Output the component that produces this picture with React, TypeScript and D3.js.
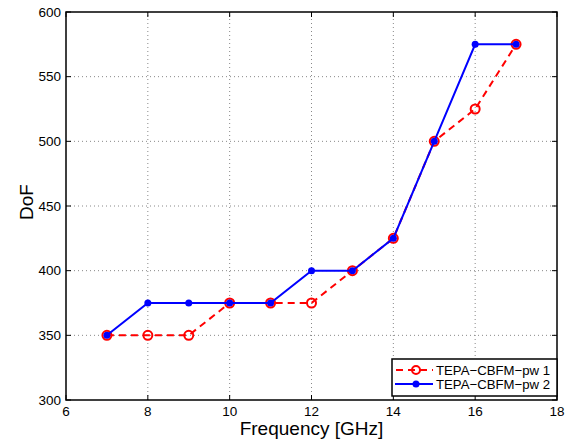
import React from 'react';
import { scaleLinear, line } from 'd3';

const FREQ = [7, 8, 9, 10, 11, 12, 13, 14, 15, 16, 17];
const DOF_PW1 = [350, 350, 350, 375, 375, 375, 400, 425, 500, 525, 575];
const DOF_PW2 = [350, 375, 375, 375, 375, 400, 400, 425, 500, 575, 575];
const X_TICKS = [6, 8, 10, 12, 14, 16, 18];
const Y_TICKS = [300, 350, 400, 450, 500, 550, 600];
const LABELS = ['TEPA\u2212CBFM\u2212pw 1', 'TEPA\u2212CBFM\u2212pw 2'];

const W = 569;
const H = 440;
const M = { left: 66, right: 12, top: 12, bottom: 40 };
const FONT = '"Liberation Sans", Arial, sans-serif';

export default function App() {
  const x = scaleLinear().domain([6, 18]).range([M.left, W - M.right]);
  const y = scaleLinear().domain([300, 600]).range([H - M.bottom, M.top]);
  const x0 = x.range()[0], x1 = x.range()[1];
  const y0 = y.range()[0], y1 = y.range()[1];

  const pts1 = FREQ.map((f, i) => [f, DOF_PW1[i]] as [number, number]);
  const pts2 = FREQ.map((f, i) => [f, DOF_PW2[i]] as [number, number]);
  const path = line<[number, number]>().x(d => x(d[0])).y(d => y(d[1]));

  const lgX = 392, lgY = 359, lgW = x1 - lgX, lgH = 37;

  return (
    <svg width={W} height={H} style={{ position: 'absolute', left: 0, top: 0, background: '#fff' }}>
      <rect x={0} y={0} width={W} height={H} fill="#fff" />
      {/* grid */}
      {X_TICKS.slice(1, -1).map(t => (
        <line key={'gx' + t} x1={x(t)} x2={x(t)} y1={y0} y2={y1} stroke="#888" strokeWidth={1} strokeDasharray="1,3" />
      ))}
      {Y_TICKS.slice(1, -1).map(t => (
        <line key={'gy' + t} x1={x0} x2={x1} y1={y(t)} y2={y(t)} stroke="#888" strokeWidth={1} strokeDasharray="1,3" />
      ))}
      {/* ticks */}
      {X_TICKS.map(t => (
        <g key={'tx' + t}>
          <line x1={x(t)} x2={x(t)} y1={y0} y2={y0 - 5} stroke="#000" />
          <line x1={x(t)} x2={x(t)} y1={y1} y2={y1 + 5} stroke="#000" />
          <text x={x(t)} y={y0 + 15.5} textAnchor="middle" fontSize={13.5} fontFamily={FONT}>{t}</text>
        </g>
      ))}
      {Y_TICKS.map(t => (
        <g key={'ty' + t}>
          <line x1={x0} x2={x0 + 5} y1={y(t)} y2={y(t)} stroke="#000" />
          <line x1={x1} x2={x1 - 5} y1={y(t)} y2={y(t)} stroke="#000" />
          <text x={x0 - 5} y={y(t) + 4.5} textAnchor="end" fontSize={13.5} fontFamily={FONT}>{t}</text>
        </g>
      ))}
      {/* series */}
      <path d={path(pts1) || ''} fill="none" stroke="#f00" strokeWidth={2} strokeDasharray="7,5" />
      {pts1.map((d, i) => (
        <circle key={'c1' + i} cx={x(d[0])} cy={y(d[1])} r={4.5} fill="none" stroke="#f00" strokeWidth={2} />
      ))}
      <path d={path(pts2) || ''} fill="none" stroke="#00f" strokeWidth={2} />
      {pts2.map((d, i) => (
        <circle key={'c2' + i} cx={x(d[0])} cy={y(d[1])} r={3.5} fill="#00f" />
      ))}
      {/* axes box */}
      <rect x={x0} y={y1} width={x1 - x0} height={y0 - y1} fill="none" stroke="#000" strokeWidth={1.5} />
      {/* legend */}
      <rect x={lgX} y={lgY} width={lgW} height={lgH} fill="#fff" stroke="#000" strokeWidth={1.5} />
      <line x1={lgX + 3} x2={lgX + 41} y1={lgY + 11} y2={lgY + 11} stroke="#f00" strokeWidth={2} strokeDasharray="7,5" strokeDashoffset={-1} />
      <circle cx={lgX + 24} cy={lgY + 11} r={4} fill="none" stroke="#f00" strokeWidth={2} />
      <line x1={lgX + 3} x2={lgX + 41} y1={lgY + 25} y2={lgY + 25} stroke="#00f" strokeWidth={2} />
      <circle cx={lgX + 24} cy={lgY + 25} r={3.5} fill="#00f" />
      <text x={lgX + 44} y={lgY + 15.5} fontSize={13.2} fontFamily={FONT}>{LABELS[0]}</text>
      <text x={lgX + 44} y={lgY + 29.5} fontSize={13.2} fontFamily={FONT}>{LABELS[1]}</text>
      {/* axis labels */}
      <text x={(x0 + x1) / 2} y={435} textAnchor="middle" fontSize={19} fontFamily={FONT}>Frequency [GHz]</text>
      <text transform={`translate(33,202) rotate(-90)`} textAnchor="middle" fontSize={19} fontFamily={FONT}>DoF</text>
    </svg>
  );
}
